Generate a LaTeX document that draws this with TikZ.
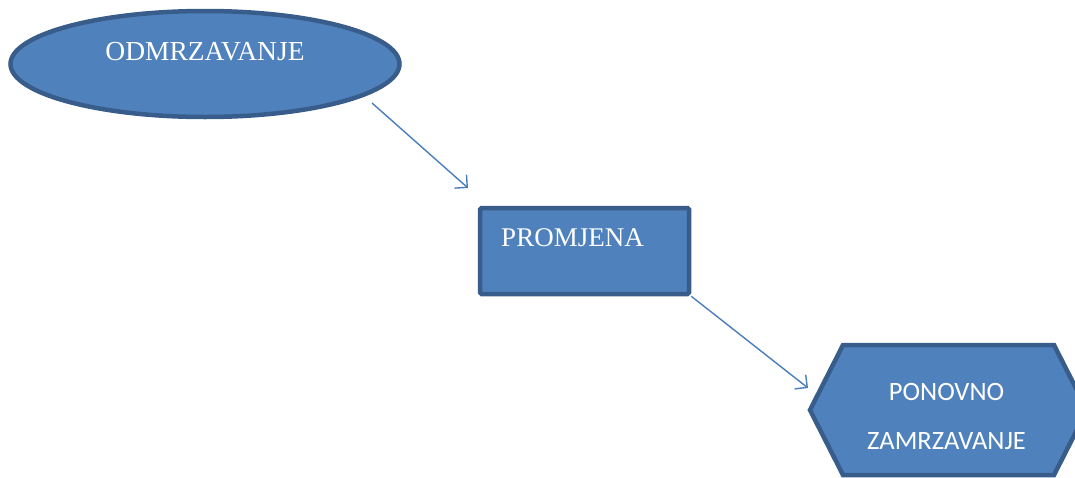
\documentclass[tikz,border=0pt]{standalone}
\usepackage{fontspec}
\setmainfont{Liberation Serif}
\newfontfamily\calib{Carlito}
\usetikzlibrary{shapes.geometric,arrows.meta}
\definecolor{fillblue}{HTML}{4F81BD}
\definecolor{edgeblue}{HTML}{385D8A}
\definecolor{linkblue}{HTML}{4A7EBB}
\tikzset{
  shapebox/.style={fill=fillblue,draw=edgeblue,line width=4.5pt},
  lbl/.style={text=white,inner sep=0pt},
  link/.style={draw=linkblue,line width=1.4pt,-{Straight Barb[length=9pt,width=18pt,line width=1.4pt]}}
}
\begin{document}
\begin{tikzpicture}[x=1pt,y=-1pt]
\useasboundingbox (0,0) rectangle (1075,477);
\node[shapebox,ellipse,minimum width=389pt,minimum height=106pt,inner sep=0pt] (odm) at (205,64) {};
\node[lbl,font=\fontsize{27.5}{32}\selectfont] (odmt) at (205,52) {ODMRZAVANJE};
\node[shapebox,rectangle,rounded corners=1.5pt,minimum width=209pt,minimum height=86pt,inner sep=0pt] (pro) at (584.5,251) {};
\node[lbl,font=\fontsize{27}{32}\selectfont] (prot) at (572.5,238) {PROMJENA};
\coordinate (hl) at (810,410);
\coordinate (htl) at (843,345);
\coordinate (htr) at (1054,345);
\coordinate (hr) at (1087,410);
\coordinate (hbr) at (1054,475);
\coordinate (hbl) at (843,475);
\path[shapebox,line join=miter] (hl) -- (htl) -- (htr) -- (hr) -- (hbr) -- (hbl) -- cycle;
\node[lbl,font=\calib\fontsize{26.5}{30}\selectfont] (pont) at (946.5,392) {PONOVNO};
\node[lbl,font=\calib\fontsize{26.5}{30}\selectfont] (zamt) at (946.5,441) {ZAMRZAVANJE};
\coordinate (a1s) at (372,103);
\coordinate (a1e) at (468,188);
\coordinate (a2e) at (808,388);
\draw[link] (a1s) -- (a1e);
\draw[link] (pro.south east) -- (a2e);
\end{tikzpicture}
\end{document}
